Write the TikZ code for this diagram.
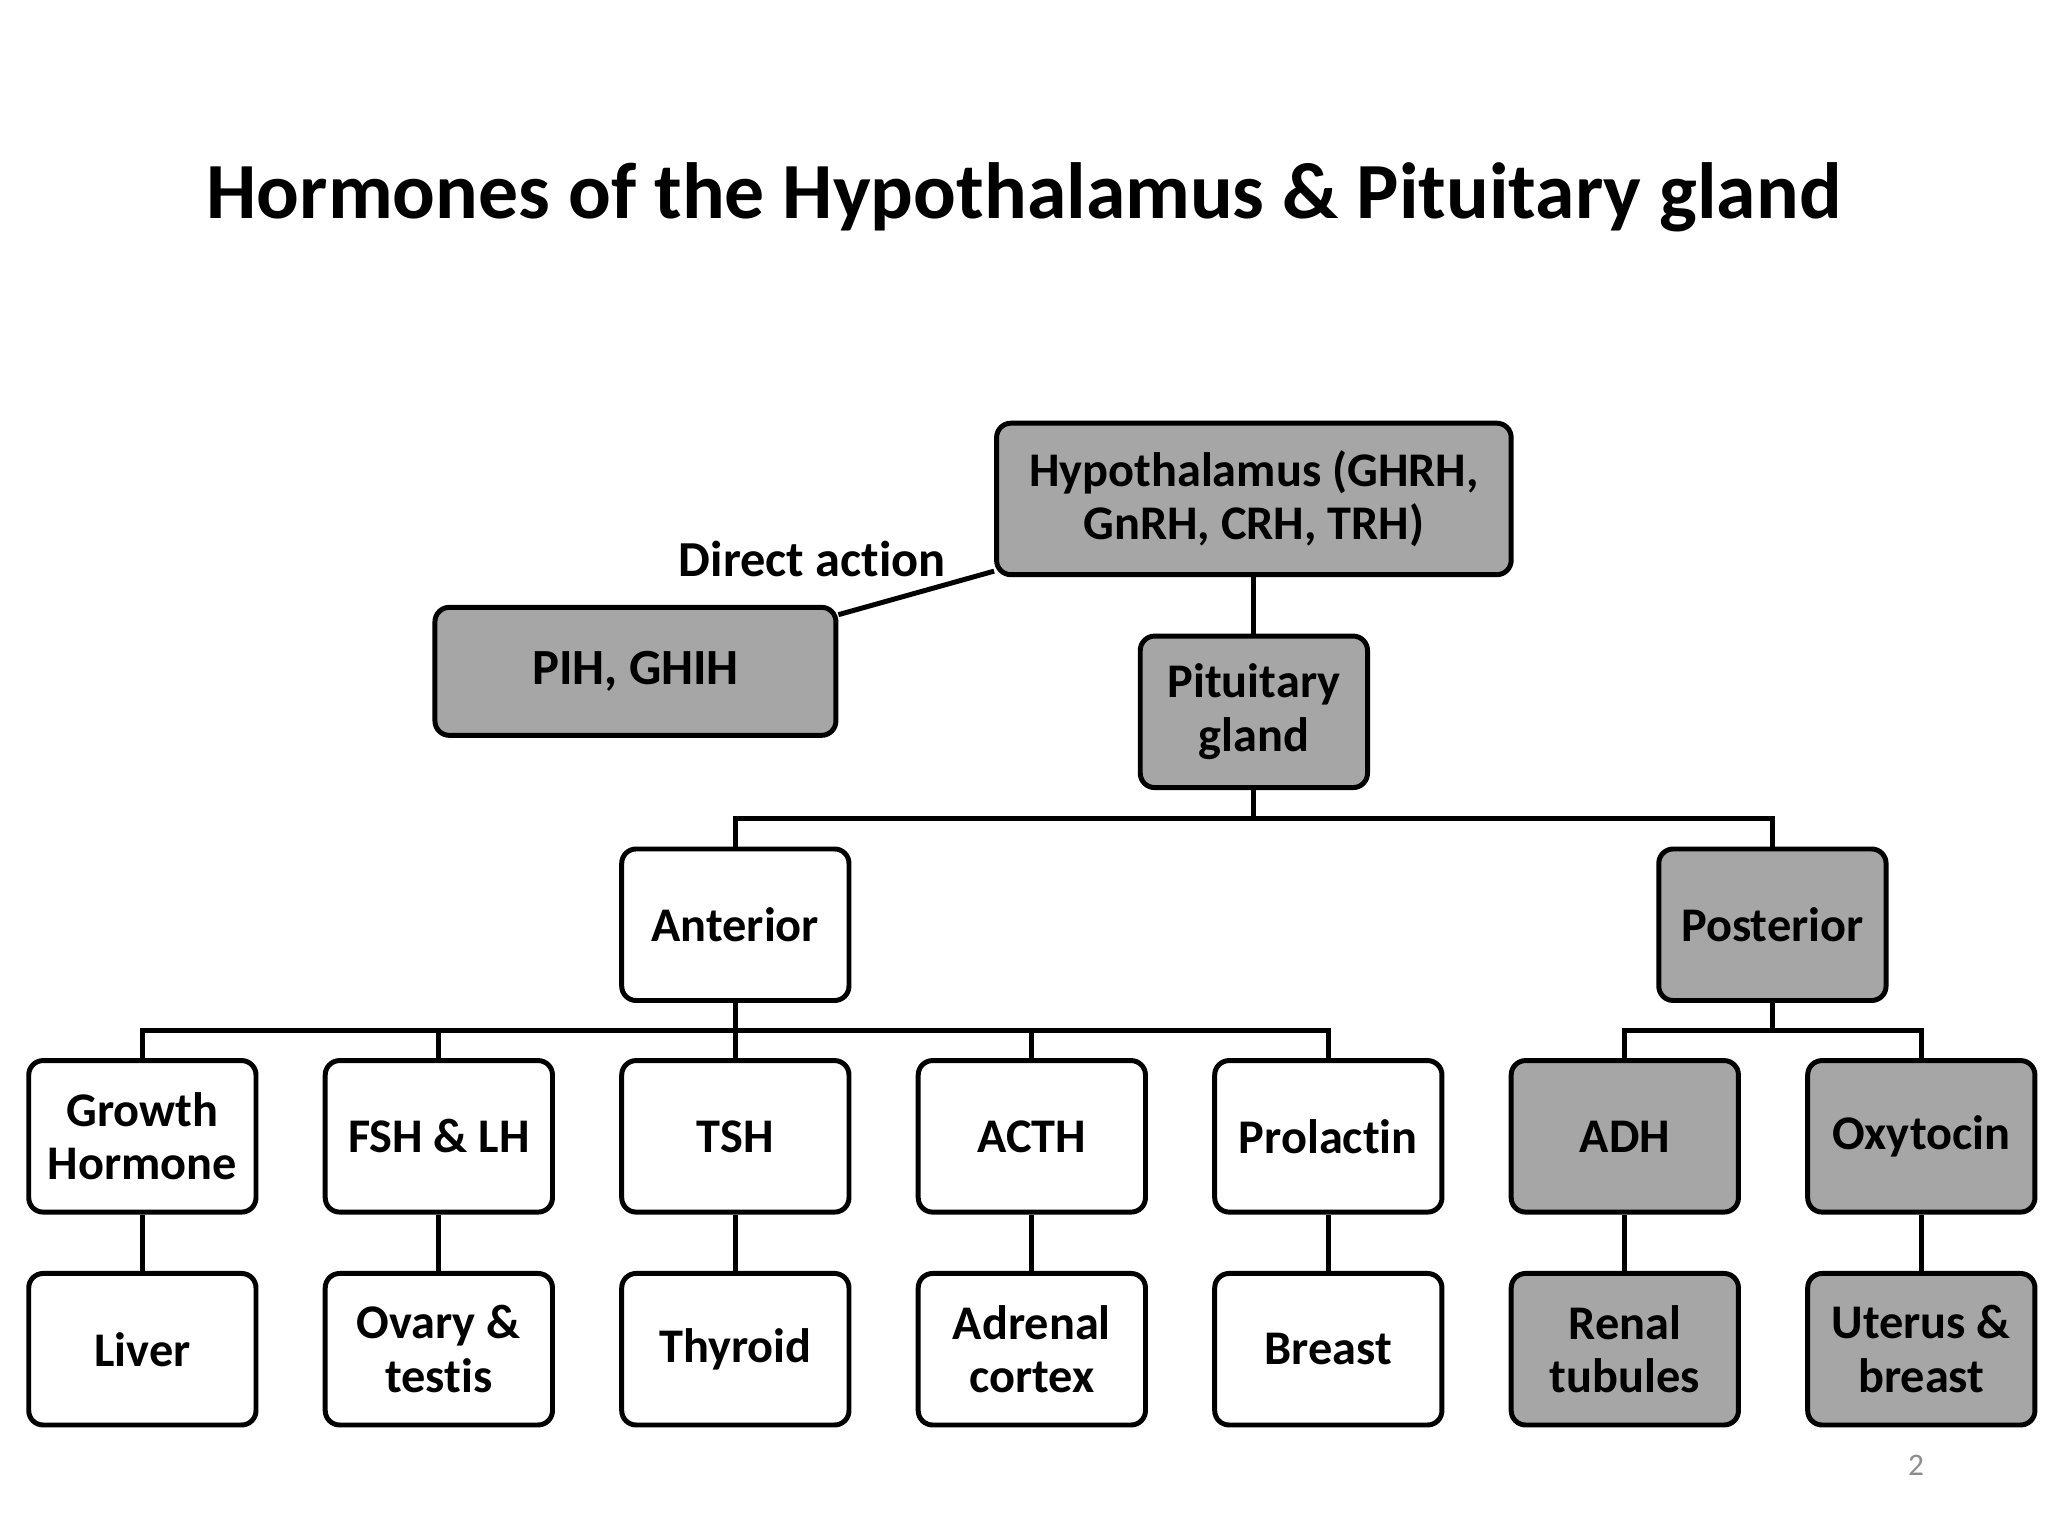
\documentclass[tikz,border=0pt]{standalone}
\usepackage{fontspec}
\setmainfont{Carlito}[Ligatures=NoCommon]
\begin{document}
\begin{tikzpicture}[x=0.5pt,y=-0.5pt,
  box/.style={draw=black,line width=1.9pt,rounded corners=5.5pt,align=center,
    font=\fontsize{18.5}{20.5}\selectfont\bfseries,inner sep=0pt,
    minimum width=87pt,minimum height=58pt},
  grey/.style={box,fill=boxgrey},
  white/.style={box,fill=white},
  conn/.style={line width=1.9pt}]
\definecolor{boxgrey}{HTML}{A6A6A6}
\useasboundingbox (0,0) rectangle (1568,1176);
\node[font=\fontsize{30.5}{34}\selectfont\bfseries] (title) at (784,151) {Hormones of the Hypothalamus \& Pituitary gland};
\node[grey,minimum width=197pt] (hyp) at (960,382) {Hypothalamus (GHRH,\\GnRH, CRH, TRH)};
\node[grey,minimum width=153.5pt,minimum height=49pt,font=\fontsize{19.4}{21}\selectfont\bfseries] (pih) at (486.5,514) {\raisebox{-1.5pt}{PIH, GHIH}};
\node[font=\fontsize{19.3}{21}\selectfont\bfseries] (da) at (622,428) {Direct action};
\node[grey] (pit) at (960,545) {Pituitary\\gland};
\node[white] (ant) at (563,708) {Anterior};
\node[grey] (post) at (1357,708) {Posterior};
\node[white] (gh) at (109,870) {Growth\\Hormone};
\node[white] (fsh) at (336,870) {FSH \& LH};
\node[white] (tsh) at (563,870) {TSH};
\node[white] (acth) at (790,870) {ACTH};
\node[white] (prl) at (1017,870) {Prolactin};
\node[grey] (adh) at (1244,870) {ADH};
\node[grey] (oxy) at (1471,870) {Oxytocin};
\node[white] (liver) at (109,1033) {Liver};
\node[white] (ovary) at (336,1033) {Ovary \&\\testis};
\node[white] (thy) at (563,1033) {Thyroid};
\node[white] (adr) at (790,1033) {Adrenal\\cortex};
\node[white] (breast) at (1017,1033) {Breast};
\node[grey] (renal) at (1244,1033) {Renal\\tubules};
\node[grey] (ut) at (1471,1033) {Uterus \&\\breast};
\node[text=black!45,font=\fontsize{12}{14}\selectfont] (pg) at (1467,1122) {2};
\coordinate (j1) at (960,627);
\coordinate (j2) at (563,789);
\coordinate (j3) at (1357,789);
\draw[conn] (pih) -- (hyp);
\draw[conn] (hyp.south) -- (pit.north);
\draw[conn] (pit.south) -- (j1);
\draw[conn] (j1) -| (ant.north);
\draw[conn] (j1) -| (post.north);
\draw[conn] (ant.south) -- (j2);
\foreach \n in {gh,fsh,tsh,acth,prl} \draw[conn] (j2) -| (\n.north);
\draw[conn] (post.south) -- (j3);
\foreach \n in {adh,oxy} \draw[conn] (j3) -| (\n.north);
\draw[conn] (gh.south) -- (liver.north);
\draw[conn] (fsh.south) -- (ovary.north);
\draw[conn] (tsh.south) -- (thy.north);
\draw[conn] (acth.south) -- (adr.north);
\draw[conn] (prl.south) -- (breast.north);
\draw[conn] (adh.south) -- (renal.north);
\draw[conn] (oxy.south) -- (ut.north);
\end{tikzpicture}
\end{document}
